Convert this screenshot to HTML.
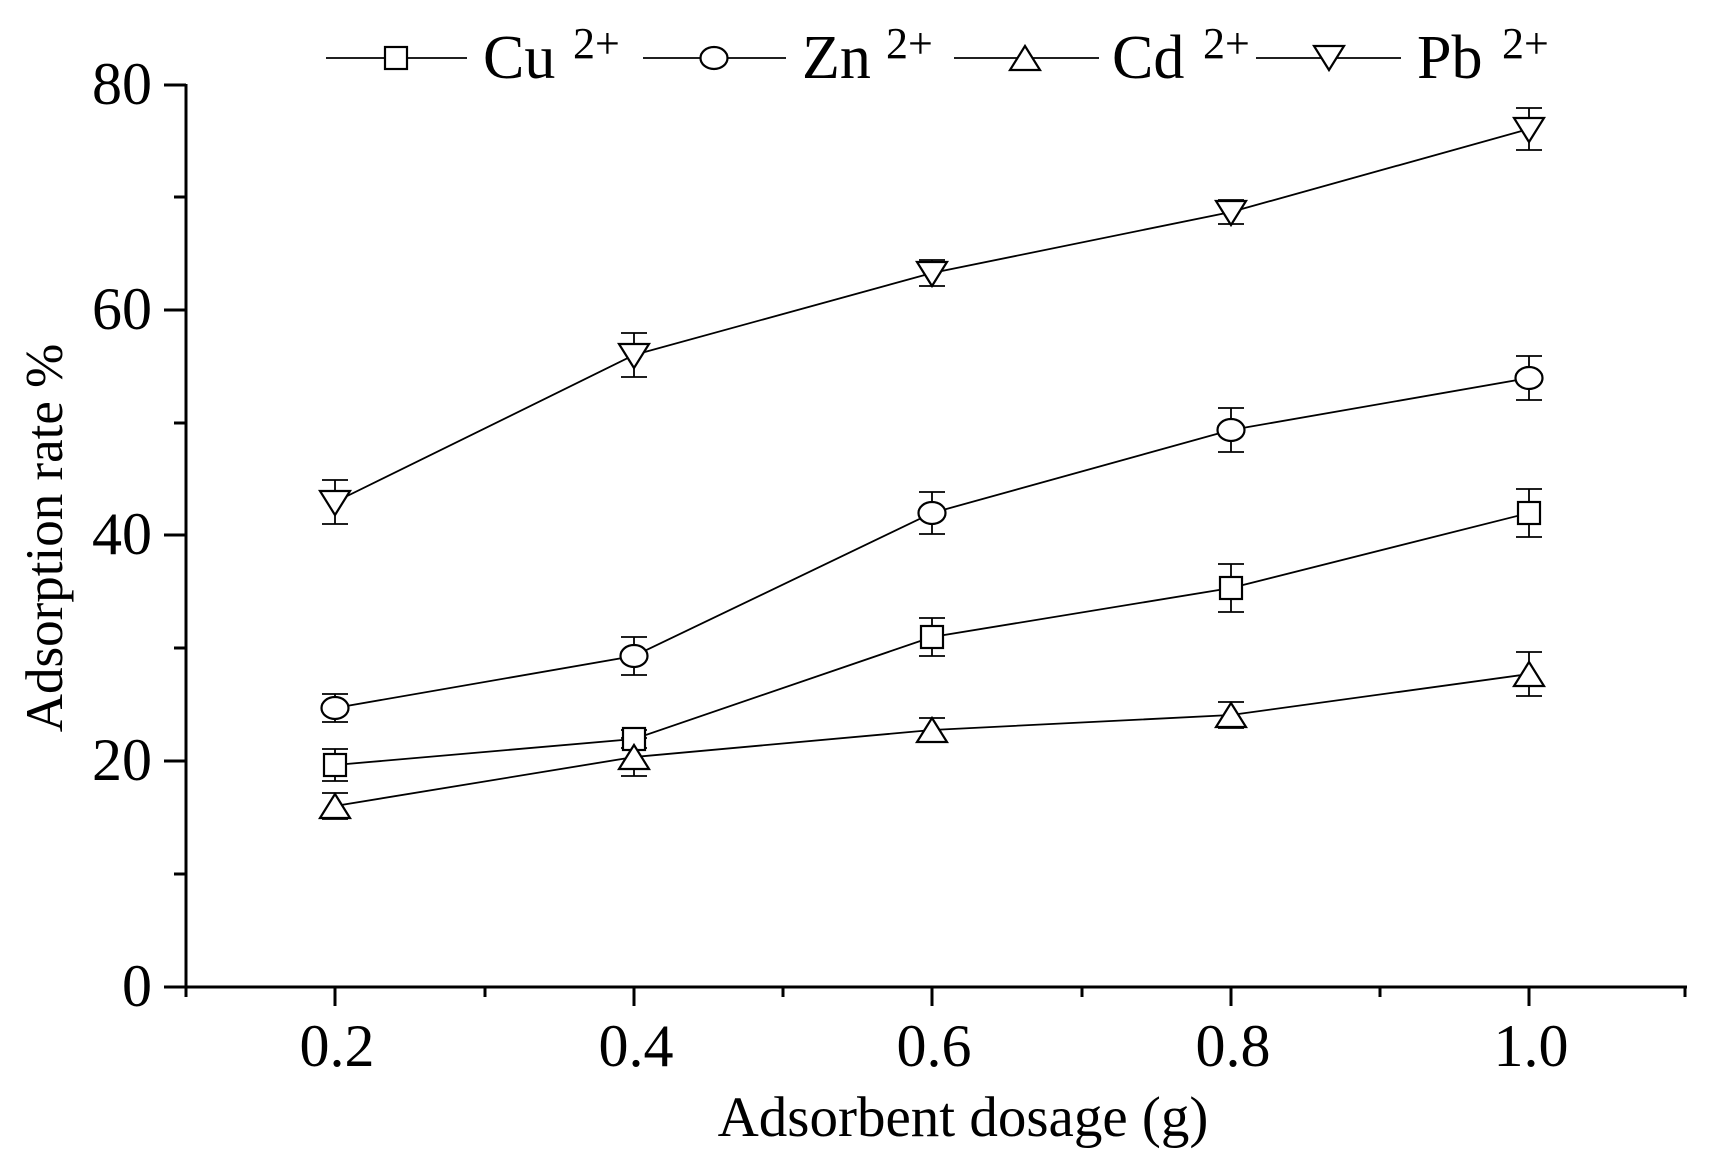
<!DOCTYPE html>
<html><head><meta charset="utf-8"><style>
html,body{margin:0;padding:0;background:#fff;}
svg{display:block;}
text{font-family:"Liberation Serif",serif;fill:#000;}
</style></head><body>
<svg width="1714" height="1161" viewBox="0 0 1714 1161" xmlns="http://www.w3.org/2000/svg">
<g stroke="#000" stroke-width="3" fill="none">
<line x1="186" y1="84" x2="186" y2="988"/>
<line x1="184" y1="987" x2="1687" y2="987"/>
<line x1="164" y1="987" x2="186" y2="987"/>
<line x1="164" y1="761" x2="186" y2="761"/>
<line x1="164" y1="535" x2="186" y2="535"/>
<line x1="164" y1="310" x2="186" y2="310"/>
<line x1="164" y1="85" x2="186" y2="85"/>
<line x1="174" y1="874" x2="186" y2="874"/>
<line x1="174" y1="648" x2="186" y2="648"/>
<line x1="174" y1="423" x2="186" y2="423"/>
<line x1="174" y1="197" x2="186" y2="197"/>
<line x1="186" y1="987" x2="186" y2="997"/>
<line x1="335" y1="987" x2="335" y2="1006"/>
<line x1="485" y1="987" x2="485" y2="997"/>
<line x1="634" y1="987" x2="634" y2="1006"/>
<line x1="783" y1="987" x2="783" y2="997"/>
<line x1="932" y1="987" x2="932" y2="1006"/>
<line x1="1082" y1="987" x2="1082" y2="997"/>
<line x1="1231" y1="987" x2="1231" y2="1006"/>
<line x1="1380" y1="987" x2="1380" y2="997"/>
<line x1="1529" y1="987" x2="1529" y2="1006"/>
<line x1="1685" y1="987" x2="1685" y2="997"/>
</g>
<g font-size="60" text-anchor="end">
<text x="152" y="1006">0</text>
<text x="152" y="780">20</text>
<text x="152" y="554">40</text>
<text x="152" y="329">60</text>
<text x="152" y="104">80</text>
</g>
<g font-size="60" text-anchor="middle">
<text x="337" y="1066">0.2</text>
<text x="636" y="1066">0.4</text>
<text x="934" y="1066">0.6</text>
<text x="1233" y="1066">0.8</text>
<text x="1531" y="1066">1.0</text>
</g>
<text x="963" y="1136" font-size="57" text-anchor="middle">Adsorbent dosage (g)</text>
<text transform="translate(62,538) rotate(-90)" font-size="53" text-anchor="middle">Adsorption rate %</text>

<g stroke="#000" stroke-width="1.8" fill="none">
<polyline points="335,502 634,355 932,273 1231,212 1529,129"/>
<polyline points="335,708 634,656 932,513 1231,430 1529,378"/>
<polyline points="335,765 634,739 932,637 1231,588 1529,513"/>
<polyline points="335,806 634,757 932,730 1231,715 1529,674"/>
<path d="
M335,480V524M322,480H348M322,524H348
M634,333V377M621,333H647M621,377H647
M932,260V286M919,260H945M919,286H945
M1231,200V224M1218,200H1244M1218,224H1244
M1529,108V150M1516,108H1542M1516,150H1542
M335,694V722M322,694H348M322,722H348
M634,637V675M621,637H647M621,675H647
M932,492V534M919,492H945M919,534H945
M1231,408V452M1218,408H1244M1218,452H1244
M1529,356V400M1516,356H1542M1516,400H1542
M335,749V781M322,749H348M322,781H348
M634,730V748M621,730H647M621,748H647
M932,618V656M919,618H945M919,656H945
M1231,564V612M1218,564H1244M1218,612H1244
M1529,489V537M1516,489H1542M1516,537H1542
M335,793V819M322,793H348M322,819H348
M634,738V776M621,738H647M621,776H647
M932,718V742M919,718H945M919,742H945
M1231,702V728M1218,702H1244M1218,728H1244
M1529,652V696M1516,652H1542M1516,696H1542"/>
</g>
<g stroke="#000" stroke-width="2.2" fill="#fff">
<polygon points="320,491 350,491 335,515"/>
<polygon points="619,344 649,344 634,368"/>
<polygon points="917,262 947,262 932,286"/>
<polygon points="1216,201 1246,201 1231,225"/>
<polygon points="1514,118 1544,118 1529,142"/>
<ellipse cx="335" cy="708" rx="13.5" ry="11"/>
<ellipse cx="634" cy="656" rx="13.5" ry="11"/>
<ellipse cx="932" cy="513" rx="13.5" ry="11"/>
<ellipse cx="1231" cy="430" rx="13.5" ry="11"/>
<ellipse cx="1529" cy="378" rx="13.5" ry="11"/>
<rect x="324" y="754" width="22" height="22"/>
<rect x="623" y="728" width="22" height="22"/>
<rect x="921" y="626" width="22" height="22"/>
<rect x="1220" y="577" width="22" height="22"/>
<rect x="1518" y="502" width="22" height="22"/>
<polygon points="320,818 350,818 335,794"/>
<polygon points="619,769 649,769 634,745"/>
<polygon points="917,742 947,742 932,718"/>
<polygon points="1216,727 1246,727 1231,703"/>
<polygon points="1514,686 1544,686 1529,662"/>
</g>
<g stroke="#000" stroke-width="1.8" fill="none">
<line x1="326" y1="58" x2="467" y2="58"/>
<line x1="643" y1="58" x2="786" y2="58"/>
<line x1="954" y1="58" x2="1099" y2="58"/>
<line x1="1256" y1="58" x2="1401" y2="58"/>
</g>
<g stroke="#000" stroke-width="2.2" fill="#fff">
<rect x="385" y="47" width="22" height="22"/>
<ellipse cx="714" cy="58" rx="13.5" ry="11"/>
<polygon points="1010,70 1040,70 1025,46"/>
<polygon points="1314,46 1344,46 1329,70"/>
</g>
<g font-size="62">
<text x="483" y="78">Cu</text><text x="573" y="58" font-size="44">2+</text>
<text x="802" y="78">Zn</text><text x="886" y="58" font-size="44">2+</text>
<text x="1112" y="78">Cd</text><text x="1203" y="58" font-size="44">2+</text>
<text x="1417" y="78">Pb</text><text x="1502" y="58" font-size="44">2+</text>
</g>
</svg>
</body></html>
